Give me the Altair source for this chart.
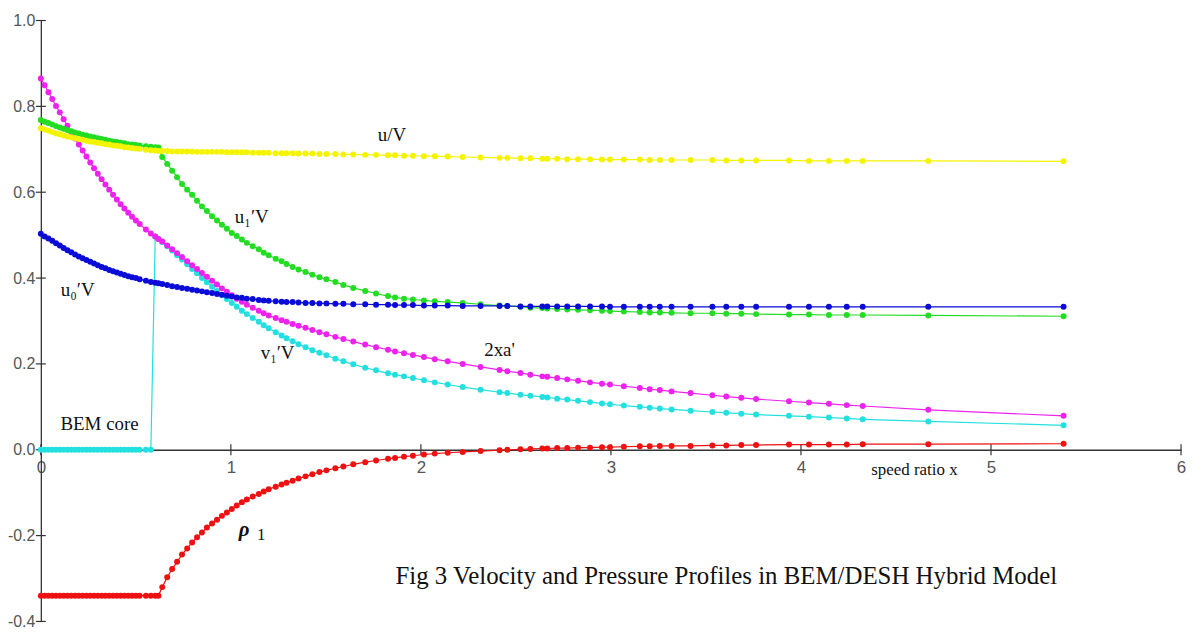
import altair as alt
import pandas as pd

# speed ratio x (shared by all curves)
X = [0.0, 0.02, 0.04, 0.06, 0.08, 0.1, 0.12, 0.14, 0.16, 0.18,
     0.2, 0.22, 0.24, 0.26, 0.28, 0.3, 0.32, 0.34, 0.36, 0.38,
     0.4, 0.42, 0.44, 0.46, 0.48, 0.5, 0.52,
     0.553, 0.579, 0.602, 0.619,
     0.639, 0.665, 0.691, 0.717, 0.743, 0.770, 0.796, 0.822, 0.848, 0.874,
     0.901, 0.927, 0.953, 0.979, 1.005, 1.031, 1.058, 1.084, 1.115, 1.147,
     1.173, 1.199, 1.236, 1.267, 1.293, 1.325, 1.356, 1.393, 1.429, 1.466,
     1.503, 1.550, 1.592, 1.644, 1.707, 1.764, 1.827, 1.864, 1.911, 1.958,
     2.016, 2.073, 2.141, 2.220, 2.314, 2.414, 2.455, 2.524, 2.576, 2.639,
     2.665, 2.717, 2.770, 2.827, 2.890, 2.953, 2.995, 3.068, 3.152, 3.204,
     3.257, 3.319, 3.419, 3.534, 3.607, 3.686, 3.764, 3.937, 4.042, 4.147,
     4.241, 4.325, 4.670, 5.382]

# u/V (yellow)
U = [0.749, 0.746, 0.743, 0.740, 0.737, 0.735, 0.732, 0.730, 0.728, 0.726,
     0.724, 0.722, 0.720, 0.718, 0.717, 0.715, 0.714, 0.712, 0.711, 0.709,
     0.708, 0.707, 0.705, 0.704, 0.703, 0.702, 0.701,
     0.699, 0.698, 0.697, 0.696,
     0.696, 0.696, 0.695, 0.695, 0.695, 0.695, 0.695, 0.694, 0.694, 0.694,
     0.694, 0.694, 0.694, 0.693, 0.693, 0.693, 0.693, 0.693, 0.692, 0.692,
     0.692, 0.692, 0.691, 0.691, 0.691, 0.691, 0.690, 0.690, 0.690, 0.689,
     0.689, 0.689, 0.688, 0.688, 0.687, 0.687, 0.686, 0.686, 0.685, 0.685,
     0.684, 0.684, 0.683, 0.682, 0.681, 0.680, 0.680, 0.679, 0.679, 0.678,
     0.678, 0.678, 0.677, 0.677, 0.677, 0.676, 0.676, 0.676, 0.676, 0.675,
     0.675, 0.675, 0.675, 0.675, 0.674, 0.674, 0.674, 0.674, 0.673, 0.673,
     0.673, 0.673, 0.673, 0.672]

# u1/V (green)
U1 = [0.768, 0.764, 0.761, 0.758, 0.754, 0.751, 0.748, 0.745, 0.742, 0.739,
      0.737, 0.734, 0.732, 0.730, 0.728, 0.726, 0.724, 0.722, 0.720, 0.718,
      0.717, 0.715, 0.714, 0.712, 0.711, 0.710, 0.709,
      0.707, 0.706, 0.705, 0.704,
      0.682, 0.666, 0.650, 0.635, 0.619, 0.606, 0.594, 0.580, 0.567, 0.556,
      0.544, 0.534, 0.524, 0.515, 0.505, 0.498, 0.490, 0.482, 0.474, 0.467,
      0.459, 0.453, 0.445, 0.439, 0.433, 0.426, 0.420, 0.414, 0.408, 0.402,
      0.397, 0.391, 0.384, 0.377, 0.370, 0.364, 0.358, 0.355, 0.352, 0.350,
      0.348, 0.346, 0.344, 0.342, 0.339, 0.336, 0.335, 0.333, 0.331, 0.330,
      0.329, 0.328, 0.327, 0.326, 0.325, 0.324, 0.323, 0.322, 0.321, 0.320,
      0.320, 0.319, 0.318, 0.318, 0.317, 0.317, 0.316, 0.315, 0.315, 0.314,
      0.314, 0.314, 0.313, 0.311]

# u0/V (blue)
U0 = [0.503, 0.497, 0.492, 0.487, 0.481, 0.476, 0.470, 0.465, 0.460, 0.455,
      0.450, 0.446, 0.442, 0.438, 0.434, 0.430, 0.426, 0.423, 0.419, 0.416,
      0.413, 0.410, 0.407, 0.404, 0.402, 0.400, 0.397,
      0.394, 0.391, 0.389, 0.388,
      0.386, 0.384, 0.381, 0.379, 0.377, 0.375, 0.373, 0.371, 0.369, 0.367,
      0.365, 0.363, 0.361, 0.359, 0.357, 0.355, 0.354, 0.352, 0.351, 0.349,
      0.348, 0.347, 0.346, 0.345, 0.344, 0.344, 0.343, 0.342, 0.342, 0.341,
      0.341, 0.340, 0.340, 0.339, 0.339, 0.338, 0.338, 0.337, 0.337, 0.337,
      0.336, 0.336, 0.336, 0.335, 0.335, 0.335, 0.335, 0.334, 0.334, 0.334,
      0.334, 0.334, 0.334, 0.334, 0.334, 0.334, 0.333, 0.333, 0.333, 0.333,
      0.333, 0.333, 0.333, 0.333, 0.333, 0.333, 0.333, 0.333, 0.333, 0.333,
      0.333, 0.333, 0.333, 0.333]

# v1/V (cyan)
V1 = [0.0, 0.0, 0.0, 0.0, 0.0, 0.0, 0.0, 0.0, 0.0, 0.0,
      0.0, 0.0, 0.0, 0.0, 0.0, 0.0, 0.0, 0.0, 0.0, 0.0,
      0.0, 0.0, 0.0, 0.0, 0.0, 0.0, 0.0,
      0.0, 0.0, 0.497, 0.491,
      0.484, 0.474, 0.464, 0.453, 0.443, 0.432, 0.421, 0.411, 0.400, 0.390,
      0.380, 0.370, 0.360, 0.351, 0.342, 0.333, 0.324, 0.316, 0.307, 0.298,
      0.290, 0.283, 0.274, 0.266, 0.260, 0.253, 0.246, 0.239, 0.232, 0.226,
      0.220, 0.212, 0.206, 0.199, 0.191, 0.185, 0.178, 0.175, 0.171, 0.167,
      0.162, 0.157, 0.152, 0.146, 0.140, 0.134, 0.132, 0.128, 0.126, 0.123,
      0.122, 0.119, 0.117, 0.114, 0.111, 0.108, 0.106, 0.103, 0.100, 0.098,
      0.096, 0.094, 0.091, 0.088, 0.086, 0.084, 0.082, 0.079, 0.077, 0.075,
      0.073, 0.071, 0.066, 0.057]

# 2xa' (magenta)
A2 = [0.865, 0.849, 0.833, 0.817, 0.801, 0.786, 0.770, 0.755, 0.740, 0.725,
      0.711, 0.697, 0.683, 0.669, 0.656, 0.643, 0.630, 0.618, 0.606, 0.594,
      0.583, 0.572, 0.562, 0.552, 0.543, 0.534, 0.526,
      0.513, 0.504, 0.497, 0.491,
      0.485, 0.476, 0.467, 0.458, 0.449, 0.439, 0.430, 0.421, 0.412, 0.403,
      0.394, 0.385, 0.376, 0.368, 0.360, 0.352, 0.345, 0.338, 0.331, 0.324,
      0.318, 0.313, 0.307, 0.302, 0.298, 0.293, 0.289, 0.284, 0.279, 0.274,
      0.269, 0.263, 0.258, 0.252, 0.245, 0.239, 0.233, 0.229, 0.225, 0.221,
      0.216, 0.211, 0.206, 0.200, 0.193, 0.186, 0.183, 0.179, 0.175, 0.171,
      0.170, 0.167, 0.164, 0.161, 0.157, 0.154, 0.152, 0.148, 0.144, 0.141,
      0.139, 0.136, 0.132, 0.127, 0.124, 0.121, 0.118, 0.113, 0.110, 0.107,
      0.104, 0.102, 0.093, 0.079]

# p1 (red)
P1 = [-0.34, -0.34, -0.34, -0.34, -0.34, -0.34, -0.34, -0.34, -0.34, -0.34,
      -0.34, -0.34, -0.34, -0.34, -0.34, -0.34, -0.34, -0.34, -0.34, -0.34,
      -0.34, -0.34, -0.34, -0.34, -0.34, -0.34, -0.34,
      -0.34, -0.34, -0.34, -0.34,
      -0.320, -0.297, -0.278, -0.261, -0.244, -0.230, -0.216, -0.204, -0.193, -0.181,
      -0.172, -0.163, -0.154, -0.146, -0.138, -0.130, -0.122, -0.116, -0.109, -0.103,
      -0.097, -0.092, -0.086, -0.081, -0.077, -0.072, -0.067, -0.062, -0.057, -0.052,
      -0.048, -0.043, -0.039, -0.034, -0.029, -0.025, -0.021, -0.019, -0.016, -0.014,
      -0.011, -0.009, -0.007, -0.005, -0.003, -0.001, 0.000, 0.001, 0.002, 0.003,
      0.003, 0.004, 0.004, 0.005, 0.005, 0.006, 0.006, 0.007, 0.008, 0.008,
      0.009, 0.009, 0.009, 0.010, 0.010, 0.011, 0.011, 0.012, 0.012, 0.012,
      0.012, 0.013, 0.013, 0.014]

SERIES = ["v1", "a2", "u1", "u", "u0", "p1"]  # drawing order, bottom to top
VALUES = {"v1": V1, "a2": A2, "u1": U1, "u": U, "u0": U0, "p1": P1}
COLORS = {"v1": "#22e0e0", "a2": "#ee22ee", "u1": "#22dd22",
          "u": "#f4f400", "u0": "#0b0bd8", "p1": "#ee1111"}

X_TICKS = [0, 1, 2, 3, 4, 5, 6]
Y_TICKS = [-0.4, -0.2, 0.0, 0.2, 0.4, 0.6, 0.8, 1.0]

# annotation texts
LBL_TEXT = ["u/V", "u\u2081\u2032V", "u\u2080\u2032V", "v\u2081\u2032V", "2xa'", "BEM core"]
LBL_X = [1.848, 1.110, 0.194, 1.246, 2.414, 0.309]
LBL_Y = [0.733, 0.542, 0.372, 0.226, 0.232, 0.059]
RHO_TEXT, RHO_X, RHO_Y = ["\u03c1"], [1.07], [-0.188]
SUB_TEXT, SUB_X, SUB_Y = ["1"], [1.16], [-0.198]
XLAB_TEXT, XLAB_X, XLAB_Y = ["speed ratio x"], [4.597], [-0.047]
TITLE_TEXT, TITLE_X, TITLE_Y = ["Fig 3 Velocity and Pressure Profiles in BEM/DESH Hybrid Model"], [3.607], [-0.295]

rows = []
for s in SERIES:
    for xv, yv in zip(X, VALUES[s], strict=True):
        rows.append({"x": xv, "y": yv, "s": s})
df = pd.DataFrame(rows)

W, H = 1146, 604
Y0_PIX = H * 1.0 / 1.4
AXIS_COLOR = "#333333"

xscale = alt.Scale(domain=[0, 6], nice=False, zero=False)
yscale = alt.Scale(domain=[-0.4, 1.0], nice=False, zero=False)

xaxis = alt.Axis(values=X_TICKS, format="d", offset=Y0_PIX - H,
                 ticks=False, labelPadding=10, labelFlush=False, grid=False,
                 labelFont="Liberation Sans", labelFontSize=17, labelColor="#555555",
                 domainColor=AXIS_COLOR, domainWidth=1.3, title=None)
yaxis = alt.Axis(values=Y_TICKS,
                 labelExpr="datum.value < 0 ? '-' + format(-datum.value, '.1f') : format(datum.value, '.1f')",
                 ticks=False, labelPadding=6, grid=False,
                 labelFont="Liberation Sans", labelFontSize=16, labelColor="#555555",
                 domainColor=AXIS_COLOR, domainWidth=1.3, title=None)

xenc = alt.X("x:Q", scale=xscale, axis=xaxis)
yenc = alt.Y("y:Q", scale=yscale, axis=yaxis)

# crossing tick marks on both axes
xt = pd.DataFrame({"x": X_TICKS, "y": [0.0] * len(X_TICKS)})
yt = pd.DataFrame({"x": [0.0] * len(Y_TICKS), "y": Y_TICKS})
layers = [
    alt.Chart(xt).mark_tick(orient="vertical", size=11, thickness=1.2, color=AXIS_COLOR,
                            opacity=1).encode(x=xenc, y=yenc),
    alt.Chart(yt).mark_tick(orient="horizontal", size=10, thickness=1.2, color=AXIS_COLOR,
                            opacity=1).encode(x=xenc, y=yenc),
]

for s in SERIES:
    sub = df[df["s"] == s]
    base = alt.Chart(sub).encode(x=xenc, y=yenc, order="x:Q")
    layers.append(base.mark_line(color=COLORS[s], strokeWidth=1.2))
    layers.append(base.mark_circle(color=COLORS[s], size=36, opacity=1))


def text_layer(texts, xs, ys, size, style="normal", weight="normal", color="#111111"):
    d = pd.DataFrame({"x": xs, "y": ys, "t": texts})
    return alt.Chart(d).mark_text(font="Liberation Serif", fontSize=size, fontStyle=style,
                                  fontWeight=weight, color=color, align="center",
                                  baseline="middle").encode(x=xenc, y=yenc, text="t:N")


layers += [
    text_layer(LBL_TEXT, LBL_X, LBL_Y, 19),
    text_layer(RHO_TEXT, RHO_X, RHO_Y, 21, style="italic", weight="bold"),
    text_layer(SUB_TEXT, SUB_X, SUB_Y, 17),
    text_layer(XLAB_TEXT, XLAB_X, XLAB_Y, 17),
    text_layer(TITLE_TEXT, TITLE_X, TITLE_Y, 25),
]

chart = alt.layer(*layers).properties(
    width=W, height=H,
    autosize=alt.AutoSizeParams(type="none"),
    padding={"left": 33, "top": 11, "right": 6, "bottom": 6},
    background="white",
).configure_view(stroke=None)

chart.save("out.html", embed_options={"renderer": "svg", "actions": False})
